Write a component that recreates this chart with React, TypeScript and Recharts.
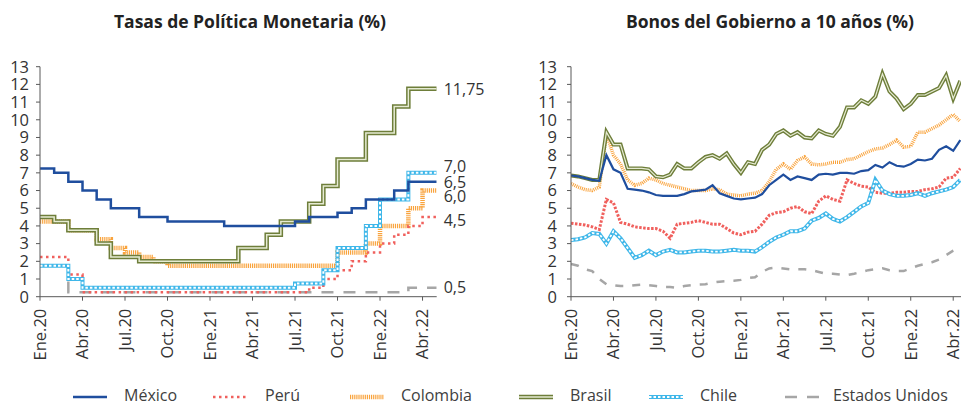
import { LineChart, Line, XAxis, YAxis } from 'recharts'

// months on the x axis (index = month number since Ene.20)
const monthLabels = [
  'Ene.20', 'Feb.20', 'Mar.20', 'Abr.20', 'May.20', 'Jun.20', 'Jul.20', 'Ago.20', 'Sep.20', 'Oct.20', 'Nov.20', 'Dic.20',
  'Ene.21', 'Feb.21', 'Mar.21', 'Abr.21', 'May.21', 'Jun.21', 'Jul.21', 'Ago.21', 'Sep.21', 'Oct.21', 'Nov.21', 'Dic.21',
  'Ene.22', 'Feb.22', 'Mar.22', 'Abr.22', 'May.22',
]
const quarterLabels = ['Ene.20', 'Abr.20', 'Jul.20', 'Oct.20', 'Ene.21', 'Abr.21', 'Jul.21', 'Oct.21', 'Ene.22', 'Abr.22']
const yTicks = [0, 1, 2, 3, 4, 5, 6, 7, 8, 9, 10, 11, 12, 13]

// Tasas de política monetaria, valor mensual (%)
const mexRate = [7.25, 7.0, 6.5, 6.0, 5.5, 5.0, 5.0, 4.5, 4.5, 4.25, 4.25, 4.25, 4.25, 4.0, 4.0, 4.0, 4.0, 4.0, 4.25, 4.5, 4.5, 4.75, 5.0, 5.5, 5.5, 6.0, 6.5, 6.5, 6.5]
const perRate = [2.25, 2.25, 1.25, 0.25, 0.25, 0.25, 0.25, 0.25, 0.25, 0.25, 0.25, 0.25, 0.25, 0.25, 0.25, 0.25, 0.25, 0.25, 0.25, 0.5, 1.0, 1.5, 2.0, 2.5, 3.0, 3.5, 4.0, 4.5, 4.5]
const colRate = [4.25, 4.25, 3.75, 3.75, 3.25, 2.75, 2.5, 2.25, 2.0, 1.75, 1.75, 1.75, 1.75, 1.75, 1.75, 1.75, 1.75, 1.75, 1.75, 1.75, 1.75, 2.5, 2.5, 3.0, 4.0, 4.0, 5.0, 6.0, 6.0]
const braRate = [4.5, 4.25, 3.75, 3.75, 3.0, 2.25, 2.25, 2.0, 2.0, 2.0, 2.0, 2.0, 2.0, 2.0, 2.75, 2.75, 3.5, 4.25, 4.25, 5.25, 6.25, 7.75, 7.75, 9.25, 9.25, 10.75, 11.75, 11.75, 11.75]
const chiRate = [1.75, 1.75, 1.0, 0.5, 0.5, 0.5, 0.5, 0.5, 0.5, 0.5, 0.5, 0.5, 0.5, 0.5, 0.5, 0.5, 0.5, 0.5, 0.75, 0.75, 1.5, 2.75, 2.75, 4.0, 5.5, 5.5, 7.0, 7.0, 7.0]
const usaRate = [1.75, 1.75, 0.25, 0.25, 0.25, 0.25, 0.25, 0.25, 0.25, 0.25, 0.25, 0.25, 0.25, 0.25, 0.25, 0.25, 0.25, 0.25, 0.25, 0.25, 0.25, 0.25, 0.25, 0.25, 0.25, 0.25, 0.5, 0.5, 0.5]

// Bonos a 10 años, lecturas quincenales desde Ene.20 (%)
const mexBond = [6.85, 6.8, 6.7, 6.6, 6.55, 8.0, 7.2, 7.0, 6.1, 6.05, 6.0, 5.9, 5.75, 5.7, 5.7, 5.7, 5.8, 5.95, 6.0,
  6.05, 6.3, 5.85, 5.7, 5.55, 5.5, 5.55, 5.6, 5.8, 6.3, 6.6, 6.9, 6.6, 6.8, 6.7, 6.6, 6.9, 6.95,
  6.9, 7.0, 7.0, 6.95, 7.1, 7.15, 7.45, 7.3, 7.6, 7.4, 7.35, 7.5, 7.75, 7.7, 7.8, 8.3, 8.5, 8.25, 8.85]
const perBond = [4.15, 4.1, 4.05, 3.95, 3.8, 5.5, 5.3, 4.2, 4.1, 3.95, 3.9, 3.85, 3.85, 3.7, 3.3, 4.1, 4.15, 4.2, 4.3,
  4.2, 4.1, 4.1, 3.85, 3.6, 3.5, 3.65, 3.7, 4.1, 4.6, 4.75, 4.8, 5.0, 5.1, 4.8, 4.7, 5.4, 5.7,
  5.5, 5.4, 6.6, 6.4, 6.25, 6.2, 5.9, 5.85, 5.85, 5.9, 5.9, 5.95, 5.95, 6.05, 6.1, 6.2, 6.7, 6.75, 7.25]
const colBond = [6.4, 6.2, 6.05, 6.0, 6.2, 9.2, 8.0, 7.5, 6.6, 6.3, 6.4, 6.7, 6.6, 6.4, 6.3, 6.2, 6.1, 6.0, 6.0,
  6.0, 6.1, 6.05, 5.8, 5.75, 5.7, 5.8, 5.85, 6.0, 6.5, 7.2, 7.5, 7.2, 7.7, 7.9, 7.5, 7.45, 7.5,
  7.6, 7.6, 7.75, 7.8, 8.0, 8.2, 8.35, 8.4, 8.6, 8.85, 8.45, 8.5, 9.3, 9.3, 9.5, 9.7, 10.0, 10.3, 9.9]
const braBond = [6.85, 6.8, 6.7, 6.6, 6.6, 9.3, 8.6, 8.6, 7.25, 7.25, 7.25, 7.2, 6.8, 6.75, 6.9, 7.5, 7.25, 7.25, 7.6,
  7.9, 8.0, 7.8, 8.1, 7.5, 7.0, 7.6, 7.5, 8.3, 8.6, 9.2, 9.4, 9.1, 9.3, 9.0, 8.95, 9.4, 9.2,
  9.1, 9.6, 10.7, 10.7, 11.1, 10.9, 11.3, 12.6, 11.6, 11.2, 10.6, 10.9, 11.4, 11.4, 11.6, 11.8, 12.5, 11.2, 12.2]
const chiBond = [3.2, 3.25, 3.35, 3.6, 3.55, 3.0, 3.7, 3.3, 2.75, 2.2, 2.35, 2.6, 2.35, 2.55, 2.65, 2.5, 2.5, 2.55, 2.6,
  2.6, 2.55, 2.55, 2.6, 2.65, 2.6, 2.6, 2.55, 2.8, 3.1, 3.35, 3.5, 3.7, 3.7, 3.85, 4.3, 4.45, 4.7,
  4.4, 4.25, 4.5, 4.8, 5.1, 5.3, 6.6, 6.0, 5.8, 5.7, 5.7, 5.75, 5.85, 5.7, 5.85, 5.95, 6.05, 6.2, 6.6]
const usaBond = [1.85, 1.75, 1.55, 1.45, 1.0, 0.7, 0.65, 0.6, 0.6, 0.65, 0.68, 0.65, 0.6, 0.55, 0.55, 0.5, 0.6, 0.65, 0.68,
  0.7, 0.8, 0.85, 0.88, 0.9, 0.95, 1.05, 1.1, 1.4, 1.6, 1.65, 1.6, 1.55, 1.55, 1.55, 1.5, 1.4, 1.3,
  1.3, 1.25, 1.22, 1.3, 1.4, 1.5, 1.55, 1.6, 1.5, 1.45, 1.45, 1.6, 1.75, 1.85, 1.95, 2.1, 2.35, 2.6, 2.8]

const FONT = '"Open Sans", sans-serif'
const TEXT = '#333333'
const AXIS = '#595959'

type Style = { stroke: string; width: number; dash?: string; inner?: { stroke: string; width: number; dash?: string } }

const leftStyle: Record<string, Style> = {
  mex: { stroke: '#1F4E9E', width: 2.5 },
  per: { stroke: '#F0605D', width: 2.5, dash: '2.5 3.5' },
  col: { stroke: '#F9A33C', width: 4.5, dash: '1.2 0.9' },
  bra: { stroke: '#6E7E3A', width: 4.5, inner: { stroke: '#E6EBD3', width: 1.5 } },
  chi: { stroke: '#3FB7E9', width: 4, inner: { stroke: '#FFFFFF', width: 2, dash: '2.5 2' } },
  usa: { stroke: '#A6A6A6', width: 2.5, dash: '12 10' },
}
const rightStyle: Record<string, Style> = {
  mex: { stroke: '#1F4E9E', width: 2.2 },
  per: { stroke: '#F0605D', width: 3, dash: '2.5 1.5' },
  col: { stroke: '#F9A33C', width: 3.5, dash: '1 1' },
  bra: { stroke: '#6E7E3A', width: 4, inner: { stroke: '#E6EBD3', width: 1.2 } },
  chi: { stroke: '#3FB7E9', width: 4, inner: { stroke: '#FFFFFF', width: 1.8, dash: '2.5 2' } },
  usa: { stroke: '#A6A6A6', width: 2.5, dash: '8 9' },
}

const legendItems = [
  { key: 'mex', name: 'México', icon: 73, text: 124 },
  { key: 'per', name: 'Perú', icon: 213, text: 265 },
  { key: 'col', name: 'Colombia', icon: 350, text: 401 },
  { key: 'bra', name: 'Brasil', icon: 519, text: 570 },
  { key: 'chi', name: 'Chile', icon: 649, text: 700 },
  { key: 'usa', name: 'Estados Unidos', icon: 785, text: 833 },
]

// vertical nudges for the end-of-line value labels so they don't collide
const endLabelDy: Record<string, number> = { bra: 0, chi: -6.5, mex: 0.6, col: 5.4, per: 3, usa: -0.5 }

const policyRows = monthLabels.map((_, i) => ({
  m: i, mex: mexRate[i], per: perRate[i], col: colRate[i], bra: braRate[i], chi: chiRate[i], usa: usaRate[i],
}))
const bondRows = mexBond.map((_, i) => ({
  m: i / 2, mex: mexBond[i], per: perBond[i], col: colBond[i], bra: braBond[i], chi: chiBond[i], usa: usaBond[i],
}))
const tickVals = quarterLabels.map((l) => monthLabels.indexOf(l))

const fmtRate = (v: number) => (v % 0.5 === 0 ? v.toFixed(1) : v.toFixed(2)).replace('.', ',')

function XTick(props: any) {
  const { x, y, payload } = props
  return (
    <text x={x} y={y} transform={`rotate(-90 ${x} ${y})`} textAnchor="end" dy="0.36em"
      fontSize={16.5} fill={TEXT} fontFamily={FONT}>
      {monthLabels[payload.value]}
    </text>
  )
}

function makeEndLabel(key: string, last: number) {
  return (props: any) => {
    const { x, y, index, value } = props
    if (index !== last || x == null) return null
    return (
      <text x={x + 7} y={y + endLabelDy[key]} dominantBaseline="central" fontSize={16} fill={TEXT} fontFamily={FONT}>
        {fmtRate(Number(value))}
      </text>
    )
  }
}

function seriesLines(key: string, st: Style, type: 'stepAfter' | 'linear', label?: any) {
  const out = [
    <Line key={key} type={type} dataKey={key} stroke={st.stroke} strokeWidth={st.width} strokeDasharray={st.dash}
      dot={false} activeDot={false} isAnimationActive={false} label={label} />,
  ]
  if (st.inner) {
    out.push(
      <Line key={key + '-in'} type={type} dataKey={key} stroke={st.inner.stroke} strokeWidth={st.inner.width}
        strokeDasharray={st.inner.dash} dot={false} activeDot={false} isAnimationActive={false} />,
    )
  }
  return out
}

const order = ['usa', 'col', 'bra', 'per', 'chi', 'mex']

function LegendIcon({ st }: { st: Style }) {
  return (
    <svg width={35} height={10} style={{ display: 'block' }}>
      <line x1={0} y1={5} x2={34} y2={5} stroke={st.stroke} strokeWidth={st.width} strokeDasharray={st.dash} />
      {st.inner && (
        <line x1={0} y1={5} x2={34} y2={5} stroke={st.inner.stroke} strokeWidth={st.inner.width} strokeDasharray={st.inner.dash} />
      )}
    </svg>
  )
}

const titleStyle: React.CSSProperties = {
  position: 'absolute', top: 9, fontSize: 17.5, fontWeight: 700, color: '#222', textAlign: 'center', lineHeight: '24px',
  whiteSpace: 'nowrap',
}

export default function App() {
  const lastPolicy = policyRows.length - 1
  return (
    <div style={{ position: 'absolute', left: 0, top: 0, width: 961, height: 406, overflow: 'hidden', background: '#fff', fontFamily: FONT }}>
      <div style={{ ...titleStyle, left: 0, width: 500 }}>Tasas de Política Monetaria (%)</div>
      <div style={{ ...titleStyle, left: 580, width: 380 }}>Bonos del Gobierno a 10 años (%)</div>

      <div style={{ position: 'absolute', left: 0, top: 0 }}>
        <LineChart width={500} height={406} data={policyRows} margin={{ top: 66.7, right: 63.3, bottom: 49.3, left: 0 }}>
          <XAxis dataKey="m" type="number" domain={[0, 28]} ticks={tickVals} interval={0} height={60}
            tickSize={4} tickMargin={8} tick={(p: any) => <XTick {...p} />} axisLine={{ stroke: AXIS }} tickLine={{ stroke: AXIS }} allowDataOverflow />
          <YAxis type="number" domain={[0, 13]} ticks={yTicks} interval={0} width={40} tickSize={4} tickMargin={7}
            tick={{ fontSize: 16.5, fill: TEXT, fontFamily: FONT }} axisLine={{ stroke: AXIS }} tickLine={{ stroke: AXIS }} />
          {order.flatMap((k) => seriesLines(k, leftStyle[k], 'stepAfter', makeEndLabel(k, lastPolicy)))}
        </LineChart>
      </div>

      <div style={{ position: 'absolute', left: 531, top: 0 }}>
        <LineChart width={430} height={406} data={bondRows} margin={{ top: 66.7, right: 0, bottom: 49.3, left: 0 }}>
          <XAxis dataKey="m" type="number" domain={[0, 27.55]} ticks={tickVals} interval={0} height={60}
            tickSize={4} tickMargin={8} tick={(p: any) => <XTick {...p} />} axisLine={{ stroke: AXIS }} tickLine={{ stroke: AXIS }} allowDataOverflow />
          <YAxis type="number" domain={[0, 13]} ticks={yTicks} interval={0} width={40} tickSize={4} tickMargin={10}
            tick={{ fontSize: 16.5, fill: TEXT, fontFamily: FONT }} axisLine={{ stroke: AXIS }} tickLine={{ stroke: AXIS }} />
          {order.flatMap((k) => seriesLines(k, rightStyle[k], 'linear'))}
        </LineChart>
      </div>

      {legendItems.map((it) => (
        <div key={it.key}>
          <div style={{ position: 'absolute', left: it.icon, top: 391.5 }}>
            <LegendIcon st={leftStyle[it.key]} />
          </div>
          <div style={{ position: 'absolute', left: it.text, top: 384, fontSize: 16, lineHeight: '22px', color: '#404040', whiteSpace: 'nowrap' }}>
            {it.name}
          </div>
        </div>
      ))}
    </div>
  )
}
